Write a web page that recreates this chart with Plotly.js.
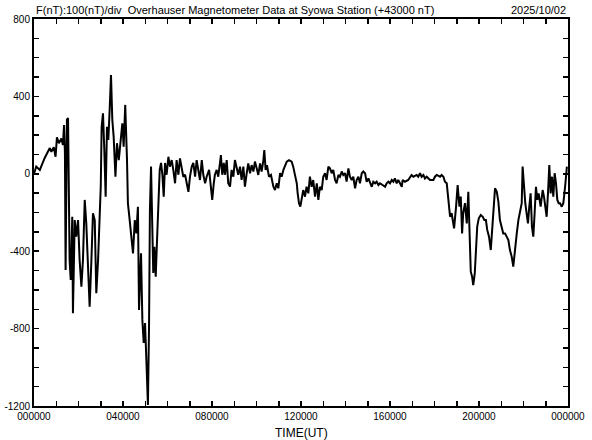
<!DOCTYPE html>
<html>
<head>
<meta charset="utf-8">
<script src="https://cdn.plot.ly/plotly-3.0.1.min.js"></script>
<style>
html,body{margin:0;padding:0;background:#fff;}
#chart{width:592px;height:440px;}
</style>
</head>
<body>
<div id="chart"></div>
<script>
// Time in hours (UT) since 00:00
const timeHours = [
0,0.10,0.26,0.48,0.71,0.78,0.89,0.97,1.03,1.12,1.23,1.30,1.35,1.39,1.42,1.48,1.53,1.57,1.60,1.65,1.72,1.75,1.83,1.90,1.98,2.05,2.13,2.20,2.28,2.35,2.43,2.50,2.58,2.65,2.73,2.80,2.88,2.95,3.00,3.04,3.10,3.16,3.22,3.28,3.34,3.40,3.46,3.52,3.58,3.66,3.73,3.81,3.88,3.97,4.03,4.10,4.18,4.22,4.30,4.37,4.45,4.53,4.60,4.67,
4.72,4.81,4.87,4.93,4.99,5.05,5.09,5.12,5.17,5.21,5.26,5.32,5.36,5.41,5.47,5.53,5.59,5.65,5.71,5.77,5.83,5.89,5.96,6.04,6.11,6.19,6.26,6.34,6.41,6.49,6.56,6.64,6.71,6.79,6.86,6.94,7.01,7.09,7.16,7.24,7.31,7.39,7.46,7.54,7.61,7.69,7.76,7.87,7.96,8.01,8.08,8.13,8.21,8.28,8.36,8.40,8.46,8.53,8.58,8.66,8.73,8.81,8.88,8.96,9.03,9.11,9.18,9.26,9.33,9.41,9.48,
9.56,9.63,9.71,9.78,9.86,9.93,10.01,10.08,10.16,10.23,10.31,10.35,10.41,10.47,10.56,10.65,10.76,10.83,10.91,10.98,11.06,11.13,11.21,11.28,11.36,11.46,11.58,11.65,11.73,11.81,11.85,11.91,11.97,12.03,12.10,12.18,12.25,12.33,12.40,12.48,12.55,12.63,12.71,12.78,12.85,12.93,13.00,13.08,13.15,13.23,13.30,13.38,13.45,13.53,13.60,13.68,13.75,13.83,13.90,13.98,14.05,14.13,14.20,14.28,14.35,14.43,14.50,14.58,14.65,14.73,14.80,
14.88,14.95,15.03,15.10,15.18,15.25,15.33,15.40,15.48,15.55,15.70,15.78,15.85,15.93,16.00,16.08,16.15,16.22,16.30,16.37,16.45,16.53,16.57,16.67,16.82,16.90,16.97,17.05,17.20,17.27,17.35,17.42,17.50,17.57,17.65,17.80,17.95,18.02,18.10,18.25,18.32,18.40,18.47,18.55,
18.62,18.70,18.77,18.88,18.97,19.04,19.12,19.18,19.24,19.29,19.37,19.45,19.52,19.56,19.63,19.69,19.74,19.81,19.87,19.92,19.99,20.08,20.17,20.24,20.31,20.37,20.45,20.53,20.58,20.64,20.72,20.80,20.87,20.94,21.02,21.09,21.17,21.24,21.32,21.39,21.47,21.54,21.62,21.69,21.77,21.84,21.92,21.96,22.02,22.08,22.14,22.20,22.26,22.32,22.38,22.44,22.50,22.56,22.62,22.68,22.77,22.86,22.92,22.98,23.04,23.10,23.16,23.22,23.28,23.34,23.40,23.46,23.52,23.58,23.64,23.72,23.79,23.87,23.92,23.95
];
// F (nT) relative to 43000 nT
const fValues = [
0,37,20,82,133,114,137,88,189,158,183,149,252,106,-497,280,288,-222,-445,-549,-222,-720,-239,-325,-239,-445,-583,-445,-135,-256,-445,-687,-445,-204,-239,-617,-445,-204,-67,243,313,123,-118,243,175,330,511,278,192,-15,158,71,175,261,140,356,71,-152,-239,-308,-411,-239,-308,-170,
-704,-411,-755,-874,-771,-962,-1133,-1195,-790,-187,37,-273,-513,-377,-532,-342,-135,20,56,-5,-118,56,-5,88,37,71,20,-49,71,-5,80,37,-15,-5,-49,-93,-15,37,56,-15,71,20,-32,71,-5,-49,-15,20,-66,-135,-49,-5,20,-15,56,97,-5,56,-5,71,-49,-66,20,-15,71,20,-5,37,-32,37,-66,
3,54,3,45,12,63,28,-6,54,12,71,123,20,45,-15,-6,-67,-84,-49,-75,3,-15,20,37,63,71,63,37,-6,-49,-101,-152,-170,-118,-84,-118,-67,-101,-15,-67,-32,-118,-49,-135,-67,-84,-15,3,-32,37,28,3,20,-32,-49,-6,-15,12,-6,3,-40,28,-15,-32,-15,-75,-32,-15,-49,3,12,
3,-41,-24,-49,-67,-41,-49,-41,-58,-49,-58,-67,-49,-41,-49,-32,-41,-24,-49,-32,-49,-67,-32,-41,-32,-15,-6,-15,-6,-15,3,-15,-6,-24,-15,-32,-32,-15,-6,-15,-6,-15,-41,-49,
-118,-222,-204,-282,-170,-58,-170,-118,-308,-204,-152,-256,-93,-256,-506,-532,-575,-515,-377,-273,-230,-213,-222,-239,-239,-290,-325,-394,-308,-204,-75,-93,-144,-239,-273,-308,-308,-325,-342,-394,-428,-480,-377,-316,-239,-204,-152,37,-67,-152,-204,-256,-170,-101,-273,-325,-204,-67,-135,-101,-170,-84,-118,-187,-222,-101,45,-101,-15,-118,3,-49,-135,-152,-152,-170,-152,-67,3,37
];
const xTickVals = [0,4,8,12,16,20,24];
const xTickText = ["000000","040000","080000","120000","160000","200000","000000"];
const yTickVals = [-1200,-800,-400,0,400,800];
const yTickText = ["-1200","-800","-400","0","400","800"];
const titleLeft = "F(nT):100(nT)/div  Overhauser Magnetometer Data at Syowa Station (+43000 nT)";
const titleRight = "2025/10/02";
const xTitle = "TIME(UT)";

const fontFam = "Liberation Sans, Arial, sans-serif";

const trace = {
  x: timeHours, y: fValues, type: 'scatter', mode: 'lines',
  line: {color: '#000', width: 2},
  hoverinfo: 'skip'
};

const layout = {
  width: 592, height: 440,
  margin: {l: 34, r: 24, t: 19, b: 34, pad: 0},
  paper_bgcolor: '#fff', plot_bgcolor: '#fff',
  showlegend: false,
  font: {family: fontFam, color: '#000', size: 10},
  xaxis: {
    range: [0, 24], tickvals: xTickVals, ticktext: xTickText,
    ticks: 'inside', ticklen: 5, tickwidth: 1.5, tickcolor: '#000',
    minor: {dtick: 1, tick0: 0, ticks: 'inside', ticklen: 5, tickwidth: 1.5, tickcolor: '#000'},
    showline: true, linecolor: '#000', linewidth: 2, mirror: 'ticks',
    showgrid: false, zeroline: false,
    tickfont: {family: fontFam, size: 10, color: '#000'}
  },
  yaxis: {
    range: [-1200, 800], tickvals: yTickVals, ticktext: yTickText,
    ticks: 'inside', ticklen: 5, tickwidth: 1.5, tickcolor: '#000',
    minor: {dtick: 100, tick0: 0, ticks: 'inside', ticklen: 5, tickwidth: 1.5, tickcolor: '#000'},
    showline: true, linecolor: '#000', linewidth: 2, mirror: 'ticks',
    showgrid: false, zeroline: false,
    tickfont: {family: fontFam, size: 10, color: '#000'},
    ticklabelstandoff: 0
  },
  annotations: [
    {text: titleLeft, xref: 'paper', yref: 'paper', x: 0, y: 1, xanchor: 'left', yanchor: 'bottom',
     yshift: 1, showarrow: false, font: {family: fontFam, size: 11, color: '#000'}},
    {text: titleRight, xref: 'paper', yref: 'paper', x: 1, y: 1, xanchor: 'right', yanchor: 'bottom',
     yshift: 1, showarrow: false, font: {family: fontFam, size: 11, color: '#000'}},
    {text: xTitle, xref: 'paper', yref: 'paper', x: 0.5, y: 0, xanchor: 'center', yanchor: 'top',
     yshift: -18, showarrow: false, font: {family: fontFam, size: 12, color: '#000'}}
  ]
};

Plotly.newPlot('chart', [trace], layout, {displayModeBar: false, staticPlot: true});
</script>
</body>
</html>
